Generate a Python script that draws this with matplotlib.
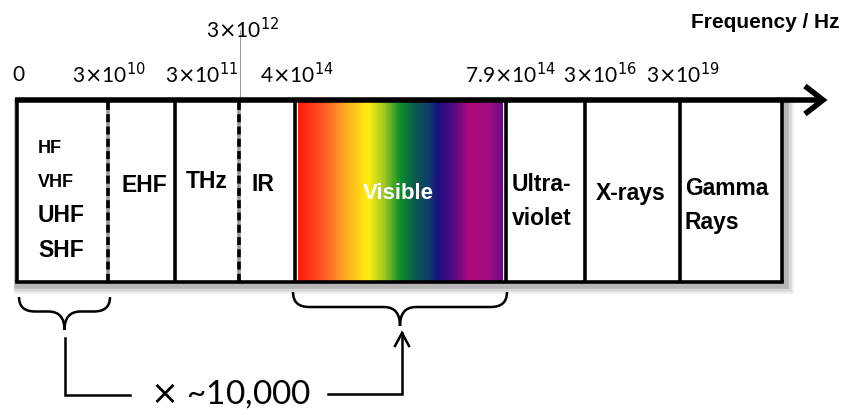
import matplotlib.pyplot as plt
from matplotlib.path import Path
from matplotlib.patches import PathPatch, Rectangle
from matplotlib.colors import LinearSegmentedColormap
import numpy as np

# Bandgrenzen (Pixel-Layout des Diagramms)
solid_edges = [17, 175, 295, 506, 585, 680, 782]
dashed_edges = [108, 239]
vis_left, vis_right = 298, 503
box_top, box_bottom = 102, 282

# Frequenz-Beschriftungen
freq_labels = ['0', r'3$\times$10$^{10}$', r'3$\times$10$^{11}$', r'4$\times$10$^{14}$',
               r'7.9$\times$10$^{14}$', r'3$\times$10$^{16}$', r'3$\times$10$^{19}$']
freq_x = [18, 109, 202, 297, 510, 600, 683]
top_label = r'3$\times$10$^{12}$'

# Farbverlauf sichtbares Licht
vis_colors = ['#ff1a0a', '#ff5a2a', '#ffb020', '#ffee10', '#a8cc20', '#10902a',
              '#0a5a50', '#103a70', '#1a1080', '#500a80', '#b0087a', '#a01080', '#6a0a8a']
vis_pos = [298, 323, 347, 368, 383, 400, 415, 430, 438, 453, 470, 490, 503]

plt.rcParams['font.family'] = ['Liberation Sans', 'DejaVu Sans']
num_font = ['Lato', 'DejaVu Sans']

fig = plt.figure(figsize=(8.45, 4.15), dpi=100)
ax = fig.add_axes([0, 0, 1, 1])
ax.set_xlim(0, 845)
ax.set_ylim(415, 0)
ax.axis('off')

# Schatten
for off, a in [(4, 0.06), (3, 0.10), (2, 0.15)]:
    ax.add_patch(Rectangle((17 + off, box_top + off), 782 - 17, box_bottom - box_top,
                           fill=False, edgecolor='black', lw=3 + off * 2, alpha=a, zorder=1))
ax.add_patch(Rectangle((17, box_top), 782 - 17, box_bottom - box_top,
                       facecolor='white', edgecolor='none', zorder=2))

# Farbverlauf
stops = [(p - vis_left) / (vis_right - vis_left) for p in vis_pos]
cmap = LinearSegmentedColormap.from_list('vis', list(zip(stops, vis_colors)))
grad = np.linspace(0, 1, 300).reshape(1, -1)
ax.imshow(grad, cmap=cmap, aspect='auto', extent=(vis_left, vis_right, box_bottom, box_top),
          zorder=3, interpolation='bilinear')

# Linien
for x in solid_edges:
    ax.plot([x, x], [box_top, box_bottom], color='black', lw=2.6, zorder=5, solid_capstyle='butt')
for x in dashed_edges:
    ax.plot([x, x], [box_top, box_bottom], color='#9a9a9a', lw=2.6, zorder=4)
    ax.plot([x, x], [box_top, box_bottom], color='black', lw=2.6, zorder=5,
            linestyle=(0, (2.2, 1.2)))
ax.plot([17, 782], [box_bottom, box_bottom], color='black', lw=2.6, zorder=5)
ax.plot([15, 822], [100, 100], color='black', lw=4, zorder=6, solid_capstyle='butt')
ax.plot([805, 823, 805], [86, 100, 114], color='black', lw=4, zorder=6,
        solid_joinstyle='miter', solid_capstyle='butt')
ax.plot([240, 240], [30, 98], color='#999999', lw=0.7, zorder=3)

# Frequenzen
for lab, x in zip(freq_labels, freq_x):
    ax.text(x, 75, lab, ha='center', va='center', fontsize=15, family=num_font)
ax.text(243, 30, top_label, ha='center', va='center', fontsize=15, family=num_font)
ax.text(840, 22, 'Frequency / Hz', ha='right', va='center', fontsize=15, fontweight='bold')

# Bandnamen
bold = dict(fontweight='bold', va='center', zorder=7)
ax.text(38, 148, 'HF', fontsize=13, ha='left', **bold)
ax.text(38, 182, 'VHF', fontsize=13, ha='left', **bold)
ax.text(38, 215, 'UHF', fontsize=16.5, ha='left', **bold)
ax.text(38, 250, 'SHF', fontsize=16.5, ha='left', **bold)
ax.text(144, 185, 'EHF', fontsize=16.5, ha='center', **bold)
ax.text(207, 181, 'THz', fontsize=16.5, ha='center', **bold)
ax.text(263, 184, 'IR', fontsize=16.5, ha='center', **bold)
ax.text(398, 193, 'Visible', fontsize=16, ha='center', color='white', **bold)
ax.text(512, 184, 'Ultra-', fontsize=16.5, ha='left', **bold)
ax.text(512, 218, 'violet', fontsize=16.5, ha='left', **bold)
ax.text(631, 193, 'X-rays', fontsize=16.5, ha='center', **bold)
ax.text(685, 188, 'Gamma', fontsize=16.5, ha='left', **bold)
ax.text(685, 222, 'Rays', fontsize=16.5, ha='left', **bold)


def brace(x0, x1, y0, y1):
    xc = (x0 + x1) / 2
    ym = (y0 + y1) / 2 - 2
    r = 16
    verts = [(x0, y0), (x0, ym), (x0 + r, ym), (xc - r, ym), (xc, ym), (xc, y1),
             (xc, ym), (xc + r, ym), (x1 - r, ym), (x1, ym), (x1, y0)]
    codes = [Path.MOVETO, Path.CURVE3, Path.CURVE3, Path.LINETO, Path.CURVE3, Path.CURVE3,
             Path.CURVE3, Path.CURVE3, Path.LINETO, Path.CURVE3, Path.CURVE3]
    ax.add_patch(PathPatch(Path(verts, codes), fill=False, lw=1.8, edgecolor='black'))


brace(19, 110, 297, 330)
brace(293, 507, 292, 326)

# Verbindung
ax.plot([65, 65, 130], [338, 395, 395], color='black', lw=1.8, solid_joinstyle='miter')
ax.plot([328, 402, 402], [394, 394, 333], color='black', lw=1.8, solid_joinstyle='miter')
ax.plot([395, 402, 409], [346, 333, 346], color='black', lw=1.8, solid_joinstyle='miter')
ax.text(150, 394, r'$\times$ ~10,000', ha='left', va='center', fontsize=24, family=num_font)

fig.savefig('out.png', dpi=100)
